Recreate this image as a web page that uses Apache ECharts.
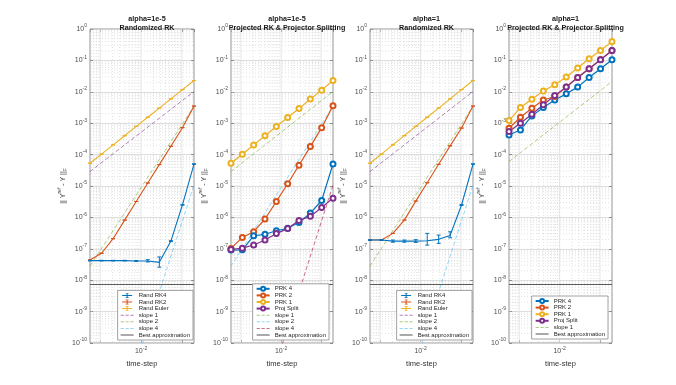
<!DOCTYPE html>
<html><head><meta charset="utf-8">
<script src="https://cdn.jsdelivr.net/npm/echarts@6/dist/echarts.min.js"></script>
<style>html,body{margin:0;padding:0;background:#fff}#c{width:676px;height:385px}</style>
</head><body><div id="c"></div>
<script>
// ---------- data ----------
const timeSteps = [5.6e-4, 1.075e-3, 2.064e-3, 3.963e-3, 7.61e-3, 1.461e-2, 2.805e-2, 5.386e-2, 0.1034, 0.1985];
const bestApprox = 7.3e-9;
const slope1Ends = [2.88e-5, 1.02e-2];
const slope2Ends = [2.8e-8, 3.5e-3];
const slope4Ends = [6.8e-16, 1.07e-5];
const slope1EndsP4 = [6.0e-5, 2.13e-2];

// panel 1: alpha=1e-5, Randomized RK
const p1RK4 = [4.2e-8, 4.2e-8, 4.2e-8, 4.2e-8, 4.1e-8, 4.1e-8, 3.7e-8, 1.76e-7, 2.5e-6, 5.0e-5];
const p1RK4Lo = [4.1e-8, 4.1e-8, 4.1e-8, 4.1e-8, 3.95e-8, 3.8e-8, 2.6e-8, 1.7e-7, 2.45e-6, 4.9e-5];
const p1RK4Hi = [4.3e-8, 4.3e-8, 4.3e-8, 4.3e-8, 4.25e-8, 4.5e-8, 5.5e-8, 1.82e-7, 2.55e-6, 5.1e-5];
const p1RK2 = [4.4e-8, 7.2e-8, 2.1e-7, 8.2e-7, 3.2e-6, 1.25e-5, 4.8e-5, 1.85e-4, 7.2e-4, 3.5e-3];
const p1Euler = [5.3e-5, 1.04e-4, 2.04e-4, 4.0e-4, 7.9e-4, 1.55e-3, 3.03e-3, 5.96e-3, 1.17e-2, 2.29e-2];

// panel 2: alpha=1e-5, Projected RK & Projector Splitting
const p2PRK4 = [9.1e-8, 9.3e-8, 2.6e-7, 2.9e-7, 3.75e-7, 4.5e-7, 6.9e-7, 1.37e-6, 3.45e-6, 5.0e-5];
const p2PRK2 = [1.03e-7, 2.3e-7, 3.5e-7, 8.9e-7, 3.2e-6, 1.18e-5, 4.6e-5, 1.8e-4, 7.2e-4, 3.57e-3];
const p2PRK1 = [5.3e-5, 1.03e-4, 2.03e-4, 3.95e-4, 7.8e-4, 1.51e-3, 2.93e-3, 5.85e-3, 1.13e-2, 2.29e-2];
const p2PS = [9.5e-8, 1.05e-7, 1.32e-7, 1.9e-7, 3.05e-7, 4.4e-7, 8.0e-7, 1.08e-6, 2.06e-6, 4.1e-6];

// panel 3: alpha=1, Randomized RK
const p3RK4 = [1.9e-7, 1.9e-7, 1.76e-7, 1.76e-7, 1.76e-7, 1.8e-7, 2.0e-7, 2.67e-7, 2.48e-6, 5.0e-5];
const p3RK4Lo = [1.85e-7, 1.85e-7, 1.62e-7, 1.62e-7, 1.6e-7, 1.31e-7, 1.49e-7, 2.24e-7, 2.4e-6, 4.9e-5];
const p3RK4Hi = [1.95e-7, 1.95e-7, 1.9e-7, 1.9e-7, 1.95e-7, 3.1e-7, 2.73e-7, 3.48e-7, 2.56e-6, 5.1e-5];
const p3RK2 = [1.9e-7, 1.9e-7, 3.1e-7, 8.2e-7, 3.3e-6, 1.27e-5, 4.9e-5, 1.9e-4, 7.0e-4, 3.5e-3];
const p3Euler = [5.3e-5, 1.04e-4, 2.04e-4, 4.0e-4, 7.9e-4, 1.55e-3, 3.03e-3, 5.96e-3, 1.17e-2, 2.29e-2];

// panel 4: alpha=1, Projected RK & Projector Splitting
const p4PRK4 = [4.2e-4, 6.1e-4, 1.71e-3, 3.15e-3, 5.5e-3, 8.6e-3, 1.41e-2, 2.86e-2, 5.4e-2, 0.105];
const p4PRK2 = [6.9e-4, 1.55e-3, 3.0e-3, 5.5e-3, 7.1e-3, 1.42e-2, 2.87e-2, 5.45e-2, 0.106, 0.208];
const p4PRK1 = [1.21e-3, 3.15e-3, 5.8e-3, 1.07e-2, 1.67e-2, 2.94e-2, 5.7e-2, 0.113, 0.207, 0.40];
const p4PS = [5.4e-4, 1.0e-3, 1.94e-3, 3.85e-3, 7.6e-3, 1.41e-2, 2.86e-2, 5.4e-2, 0.105, 0.207];

const titles = [['alpha=1e-5', 'Randomized RK'], ['alpha=1e-5', 'Projected RK & Projector Splitting'],
                ['alpha=1', 'Randomized RK'], ['alpha=1', 'Projected RK & Projector Splitting']];

// ---------- style ----------
const FONT = '"Liberation Sans", Arial, sans-serif';
const C = {blue:'#0072BD', orange:'#D95319', yellow:'#EDB120', purple:'#7E2F8E', green:'#77AC30', lblue:'#4DBEEE', red:'#A2142F', gray:'#5a5a5a'};
const grids = [
  {left: 90, top: 29, width: 104, height: 314},
  {left: 231, top: 29, width: 102, height: 314},
  {left: 370, top: 29, width: 103, height: 314},
  {left: 509, top: 29, width: 103, height: 314}
];
const legendPos = [{right: 483, bottom: 45}, {right: 347, bottom: 45}, {right: 204, bottom: 45}, {right: 68, bottom: 46}];

const ICON_ERR = 'path://M0,4H20V6H0Z M9,0H11V10H9Z M7,0H13V1.3H7Z M7,8.7H13V10H7Z';
const ICON_DASH = 'path://M0,4.2H5V5.8H0Z M7.5,4.2H12.5V5.8H7.5Z M15,4.2H20V5.8H15Z';
const ICON_SOLID = 'path://M0,4.2H20V5.8H0Z';

const xMin = timeSteps[0], xMax = timeSteps[timeSteps.length - 1];
const ends = [xMin, xMax];

const series = [], xAxes = [], yAxes = [], legends = [], titleComps = [];

function supLabel(v) {
  const e = Math.round(Math.log10(v));
  return '{b|10}{s|' + e + '}';
}
const richTick = {
  b: {fontSize: 7, lineHeight: 11, verticalAlign: 'middle', color: '#4d4d4d', fontFamily: FONT},
  s: {fontSize: 5, lineHeight: 6, verticalAlign: 'top', color: '#4d4d4d', fontFamily: FONT}
};

function mkLine(gi, name, xsArr, ys, color, o) {
  o = o || {};
  return {
    type: 'line', name: name, xAxisIndex: gi * 2, yAxisIndex: gi * 2,
    data: xsArr.map((x, i) => [x, ys[i]]),
    symbol: o.symbol || 'none', symbolSize: o.symbolSize || 0, showSymbol: !!o.symbol,
    lineStyle: {color: color, width: o.width || 1.1, type: o.dash ? [4, 2.5] : 'solid', opacity: o.opacity || 1},
    itemStyle: {color: color, opacity: o.opacity || 1, borderWidth: 1},
    emphasis: {disabled: true}, animation: false, clip: true, z: o.z || 3, silent: true
  };
}
function mkErr(gi, ys, lo, hi, color) {
  return {
    type: 'custom', name: 'err' + gi + color, xAxisIndex: gi * 2, yAxisIndex: gi * 2,
    data: timeSteps.map((x, i) => [x, lo ? lo[i] : ys[i], hi ? hi[i] : ys[i]]),
    encode: {x: 0, y: [1, 2]}, silent: true, animation: false, z: 4,
    renderItem: function (params, api) {
      const a = api.coord([api.value(0), api.value(1)]);
      const b = api.coord([api.value(0), api.value(2)]);
      const w = 2;
      const st = {stroke: color, lineWidth: 1};
      return {type: 'group', children: [
        {type: 'line', shape: {x1: a[0], y1: a[1], x2: b[0], y2: b[1]}, style: st},
        {type: 'line', shape: {x1: a[0] - w, y1: a[1], x2: a[0] + w, y2: a[1]}, style: st},
        {type: 'line', shape: {x1: b[0] - w, y1: b[1], x2: b[0] + w, y2: b[1]}, style: st}
      ]};
    }
  };
}

// minor grid values (2..9 x 10^k), MATLAB-style
const minorY = [], minorX = [];
for (let k = -10; k < 0; k++) for (let m = 2; m <= 9; m++) minorY.push(m * Math.pow(10, k));
for (let k = -4; k < 0; k++) for (let m = 2; m <= 9; m++) { const v = m * Math.pow(10, k); if (v > xMin && v < xMax) minorX.push(v); }
const majorX = [1e-3, 1e-2, 1e-1];

function gridLines(gi, vals, horizontal, style, z) {
  return {
    type: 'custom', name: 'grid' + gi + (horizontal ? 'h' : 'v') + style.lineDash, xAxisIndex: gi * 2, yAxisIndex: gi * 2,
    data: vals.map(v => horizontal ? [xMin, v] : [v, 1e-5]),
    encode: {x: 0, y: 1}, silent: true, animation: false, z: z, clip: true,
    renderItem: function (params, api) {
      const cs = params.coordSys;
      const p = api.coord([api.value(0), api.value(1)]);
      const shape = horizontal ? {x1: cs.x, y1: p[1], x2: cs.x + cs.width, y2: p[1]}
                               : {x1: p[0], y1: cs.y, x2: p[0], y2: cs.y + cs.height};
      return {type: 'line', shape: shape, style: Object.assign({}, style)};
    }
  };
}

for (let gi = 0; gi < 4; gi++) {
  const g = grids[gi];
  xAxes.push({
    type: 'log', logBase: 10, gridIndex: gi, min: xMin, max: xMax, position: 'bottom',
    name: 'time-step', nameLocation: 'middle', nameGap: 13,
    nameTextStyle: {fontSize: 7.5, color: '#333', fontFamily: FONT},
    axisLine: {show: false},
    axisTick: {show: true, inside: true, length: 3, lineStyle: {color: '#777', width: 0.8}},
    axisLabel: {margin: 3, formatter: v => (Math.abs(Math.log10(v) + 2) < 1e-6 ? supLabel(v) : ''), rich: richTick, showMinLabel: false, showMaxLabel: false},
    splitLine: {show: false}
  });
  xAxes.push({
    type: 'log', logBase: 10, gridIndex: gi, min: xMin, max: xMax, position: 'top',
    axisLine: {show: false}, axisLabel: {show: false}, splitLine: {show: false},
    axisTick: {show: true, inside: true, length: 3, lineStyle: {color: '#777', width: 0.8}}
  });
  yAxes.push({
    type: 'log', logBase: 10, gridIndex: gi, min: 1e-10, max: 1, interval: 1, position: 'left',
    name: '{n||| Y}{sup|ref}{n| - Y ||}{sub|F}', nameLocation: 'middle', nameGap: 18, nameRotate: 90,
    nameTextStyle: {rich: {
      n: {fontSize: 7, lineHeight: 11, verticalAlign: 'middle', color: '#333', fontFamily: FONT},
      sup: {fontSize: 5, lineHeight: 6, verticalAlign: 'top', color: '#333', fontFamily: FONT},
      sub: {fontSize: 5, lineHeight: 6, verticalAlign: 'bottom', color: '#333', fontFamily: FONT}
    }},
    axisLine: {show: false},
    axisTick: {show: true, inside: true, length: 3, lineStyle: {color: '#777', width: 0.8}},
    axisLabel: {margin: 3, formatter: supLabel, rich: richTick},
    splitLine: {show: true, lineStyle: {color: '#d6d6d6', width: 0.8}}
  });
  yAxes.push({
    type: 'log', logBase: 10, gridIndex: gi, min: 1e-10, max: 1, interval: 1, position: 'right',
    axisLine: {show: false}, axisLabel: {show: false}, splitLine: {show: false},
    axisTick: {show: true, inside: true, length: 3, lineStyle: {color: '#777', width: 0.8}}
  });
  titleComps.push({
    text: titles[gi][0] + '\n' + titles[gi][1], left: g.left + g.width / 2, top: 10, textAlign: 'center',
    textStyle: {fontSize: 7.2, fontWeight: 'bold', lineHeight: 9, color: '#1a1a1a', fontFamily: FONT}
  });
  series.push(gridLines(gi, minorY, true, {stroke: '#cfcfcf', lineWidth: 0.6, lineDash: [1, 2]}, 1));
  series.push(gridLines(gi, minorX, false, {stroke: '#cfcfcf', lineWidth: 0.6, lineDash: [1, 2]}, 1));
  series.push(gridLines(gi, majorX, false, {stroke: '#dedede', lineWidth: 0.8, lineDash: null}, 1));
}

function addLegend(gi, items) {
  legends.push(Object.assign({
    data: items, orient: 'vertical', itemWidth: 13, itemHeight: 5, itemGap: 0.6,
    padding: [2, 3, 2, 3], backgroundColor: '#fff', borderColor: '#8a8a8a', borderWidth: 0.8,
    textStyle: {fontSize: 6, color: '#262626', fontFamily: FONT, lineHeight: 6},
    formatter: n => n.split('|')[1], selectedMode: false, z: 10
  }, legendPos[gi]));
}

// panels 1 and 3 (Randomized RK)
[[0, p1RK4, p1RK4Lo, p1RK4Hi, p1RK2, p1Euler], [2, p3RK4, p3RK4Lo, p3RK4Hi, p3RK2, p3Euler]].forEach(function (d) {
  const gi = d[0], pre = 'p' + gi + '|';
  series.push(mkLine(gi, pre + 'slope 1', ends, slope1Ends, C.purple, {dash: true, opacity: 0.6, width: 1}));
  series.push(mkLine(gi, pre + 'slope 2', ends, slope2Ends, C.green, {dash: true, opacity: 0.6, width: 1}));
  series.push(mkLine(gi, pre + 'slope 4', ends, slope4Ends, C.lblue, {dash: true, opacity: 0.6, width: 1}));
  series.push(mkLine(gi, pre + 'Best approximation', ends, [bestApprox, bestApprox], C.gray, {width: 1}));
  series.push(mkLine(gi, pre + 'Rand Euler', timeSteps, d[5], C.yellow));
  series.push(mkErr(gi, d[5], null, null, C.yellow));
  series.push(mkLine(gi, pre + 'Rand RK2', timeSteps, d[4], C.orange));
  series.push(mkErr(gi, d[4], null, null, C.orange));
  series.push(mkLine(gi, pre + 'Rand RK4', timeSteps, d[1], C.blue));
  series.push(mkErr(gi, d[1], d[2], d[3], C.blue));
  addLegend(gi, [
    {name: pre + 'Rand RK4', icon: ICON_ERR}, {name: pre + 'Rand RK2', icon: ICON_ERR}, {name: pre + 'Rand Euler', icon: ICON_ERR},
    {name: pre + 'slope 1', icon: ICON_DASH}, {name: pre + 'slope 2', icon: ICON_DASH}, {name: pre + 'slope 4', icon: ICON_DASH},
    {name: pre + 'Best approximation', icon: ICON_SOLID}
  ]);
});

const mkP = {symbol: 'emptyCircle', symbolSize: 5, width: 1.2};
// panel 2
(function () {
  const gi = 1, pre = 'p1b|';
  series.push(mkLine(gi, pre + 'slope 1', ends, slope1Ends, C.green, {dash: true, opacity: 0.6, width: 1}));
  series.push(mkLine(gi, pre + 'slope 2', ends, slope2Ends, C.lblue, {dash: true, opacity: 0.6, width: 1}));
  series.push(mkLine(gi, pre + 'slope 4', ends, slope4Ends, C.red, {dash: true, opacity: 0.6, width: 1}));
  series.push(mkLine(gi, pre + 'Best approximation', ends, [bestApprox, bestApprox], C.gray, {width: 1}));
  series.push(mkLine(gi, pre + 'PRK 1', timeSteps, p2PRK1, C.yellow, mkP));
  series.push(mkLine(gi, pre + 'PRK 2', timeSteps, p2PRK2, C.orange, mkP));
  series.push(mkLine(gi, pre + 'PRK 4', timeSteps, p2PRK4, C.blue, mkP));
  series.push(mkLine(gi, pre + 'Proj Split', timeSteps, p2PS, C.purple, mkP));
  addLegend(gi, [
    pre + 'PRK 4', pre + 'PRK 2', pre + 'PRK 1', pre + 'Proj Split',
    {name: pre + 'slope 1', icon: ICON_DASH}, {name: pre + 'slope 2', icon: ICON_DASH}, {name: pre + 'slope 4', icon: ICON_DASH},
    {name: pre + 'Best approximation', icon: ICON_SOLID}
  ]);
})();

// panel 4
(function () {
  const gi = 3, pre = 'p3b|';
  series.push(mkLine(gi, pre + 'slope 1', ends, slope1EndsP4, C.green, {dash: true, opacity: 0.6, width: 1}));
  series.push(mkLine(gi, pre + 'Best approximation', ends, [bestApprox, bestApprox], C.gray, {width: 1}));
  series.push(mkLine(gi, pre + 'PRK 4', timeSteps, p4PRK4, C.blue, mkP));
  series.push(mkLine(gi, pre + 'PRK 2', timeSteps, p4PRK2, C.orange, mkP));
  series.push(mkLine(gi, pre + 'PRK 1', timeSteps, p4PRK1, C.yellow, mkP));
  series.push(mkLine(gi, pre + 'Proj Split', timeSteps, p4PS, C.purple, mkP));
  addLegend(gi, [
    pre + 'PRK 4', pre + 'PRK 2', pre + 'PRK 1', pre + 'Proj Split',
    {name: pre + 'slope 1', icon: ICON_DASH}, {name: pre + 'Best approximation', icon: ICON_SOLID}
  ]);
})();

const chart = echarts.init(document.getElementById('c'), null, {renderer: 'canvas'});
chart.setOption({
  backgroundColor: '#fff',
  animation: false,
  textStyle: {fontFamily: FONT},
  title: titleComps,
  grid: grids.map(g => Object.assign({show: true, borderColor: '#7a7a7a', borderWidth: 0.8, backgroundColor: '#fff'}, g)),
  xAxis: xAxes,
  yAxis: yAxes,
  legend: legends,
  series: series
});
</script>
</body></html>
